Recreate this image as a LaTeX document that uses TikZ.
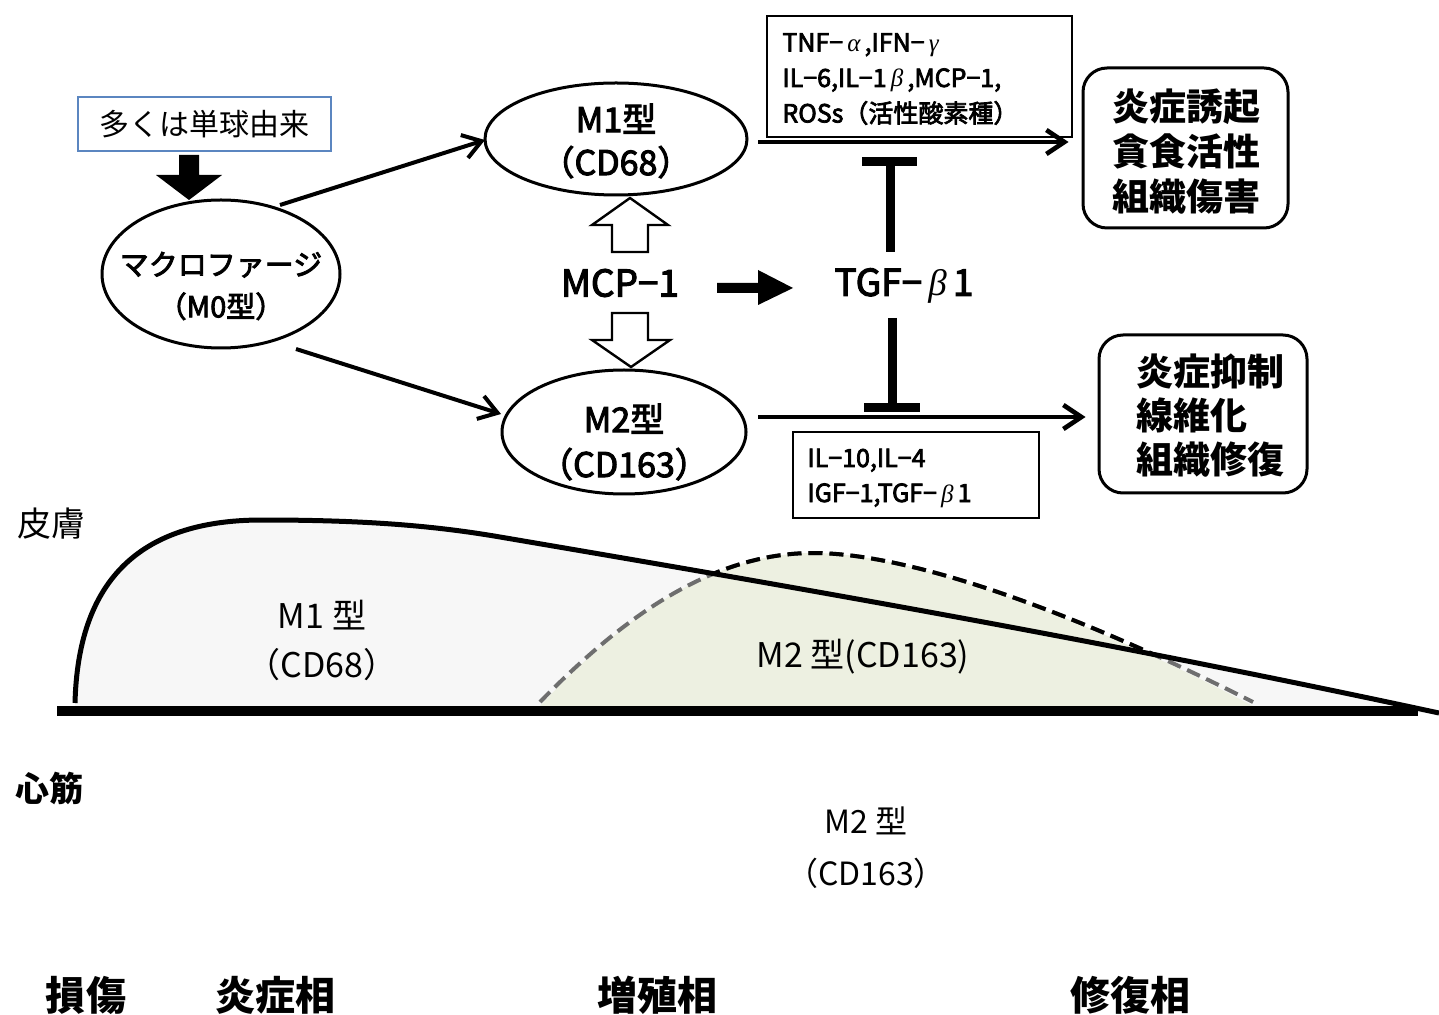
\documentclass[tikz,border=0pt]{standalone}
\usepackage{fontspec}
\setmainfont{Noto Sans CJK JP}
\newfontfamily\semib{Noto Sans CJK JP}[FakeBold=3]
\newfontfamily\grk{Liberation Serif}
\usetikzlibrary{shapes.geometric,arrows.meta}
\definecolor{monefill}{HTML}{F7F7F7}
\definecolor{mtwofill}{HTML}{EDF0E1}
\definecolor{dashgray}{HTML}{6E6E6E}
\definecolor{boxblue}{HTML}{5B86C0}
\newcommand{\gk}[1]{{\grk\itshape\,#1\,}}
\begin{document}
\begin{tikzpicture}[x=0.5pt,y=-0.5pt,
  ell/.style={draw, ellipse, line width=1.5pt, inner sep=0pt},
  arr/.style={line width=2pt, -{Straight Barb[length=9pt,width=12pt]}},
  harr/.style={line width=2.3pt, -{Straight Barb[length=9pt,width=12pt]}},
  thinbox/.style={draw, line width=1pt, inner sep=0pt},
  rbox/.style={draw, line width=1.5pt, rounded corners=12pt, inner sep=0pt},
  hollow/.style={draw, line width=1.2pt, fill=white},
  tbar/.style={line width=4.5pt},
  txt/.style={inner sep=0pt, align=center},
  txtl/.style={inner sep=0pt, align=left, anchor=west},
  mtwodash/.style={line width=2pt, dash pattern=on 7pt off 3.5pt}
]
\useasboundingbox (0,0) rectangle (1439,1015);

% ---------- top diagram ----------
\node[draw=boxblue, line width=1pt, minimum width=126.5pt, minimum height=27pt, inner sep=0pt,
      font=\fontsize{15}{18}\selectfont] (src) at (204.5,124) {多くは単球由来};
\fill (179,155) -- (199,155) -- (199,175) -- (222,175) -- (189,200) -- (156,175) -- (179,175) -- cycle;

\node[ell, minimum width=119pt, minimum height=74pt] (m0) at (221,274) {};
\node[txt, font=\semib\fontsize{14.5}{21}\selectfont] (m0t) at (221,286) {マクロファージ\\（M0型）};

\node[ell, minimum width=131pt, minimum height=56pt] (m1) at (616,139) {};
\node[txt, font=\semib\fontsize{17}{21.5}\selectfont] (m1t) at (616,141) {M1型\\（CD68）};

\node[ell, minimum width=122pt, minimum height=62pt] (m2) at (624,432) {};
\node[txt, font=\semib\fontsize{17}{22.5}\selectfont] (m2t) at (624,442) {M2型\\（CD163）};

\coordinate (a1s) at (280,205);
\coordinate (a1e) at (485,140);
\coordinate (a2s) at (296,349);
\coordinate (a2e) at (501,414);
\draw[arr] (a1s) -- (a1e);
\draw[arr] (a2s) -- (a2e);

\node[txt, font=\semib\fontsize{18.5}{22}\selectfont] (mcp) at (620,283) {MCP−1};
\node[txt, font=\semib\fontsize{18.5}{22}\selectfont] (tgf) at (904,286) {TGF−\gk{β}1};

% hollow arrows
\draw[hollow] (612,252) -- (612,225) -- (592,225) -- (630,198) -- (668,225) -- (648,225) -- (648,252) -- cycle;
\draw[hollow] (612,313) -- (648,313) -- (648,340) -- (670,340) -- (631,367) -- (592,340) -- (612,340) -- cycle;
% black arrow
\fill (717,283) -- (758,283) -- (758,270) -- (793,288) -- (758,305) -- (758,293) -- (717,293) -- cycle;

% inhibition bars
\draw[tbar] (890,252) -- (890,162);
\draw[tbar] (862,162) -- (917,162);
\draw[tbar] (892,318) -- (892,408);
\draw[tbar] (864,408) -- (920,408);

% cytokine boxes
\node[thinbox, minimum width=152.5pt, minimum height=60.5pt] (cyt1) at (919.5,76.5) {};
\node[txtl, font=\semib\fontsize{12.5}{17.75}\selectfont] (cyt1t) at (782,79) {TNF−\gk{α},IFN−\gk{γ}\\IL−6,IL−1\gk{β},MCP−1,\\ROSs（活性酸素種）};
\node[thinbox, minimum width=123pt, minimum height=43pt] (cyt2) at (916,475) {};
\node[txtl, font=\semib\fontsize{12.5}{17.5}\selectfont] (cyt2t) at (807,478) {IL−10,IL−4\\IGF−1,TGF−\gk{β}1};

% outcome boxes
\node[rbox, minimum width=102.5pt, minimum height=80pt] (r1) at (1185.5,148) {};
\node[txtl, font=\bfseries\fontsize{18.5}{22.5}\selectfont] (r1t) at (1112,152) {炎症誘起\\貪食活性\\組織傷害};
\node[rbox, minimum width=104pt, minimum height=79pt] (r2) at (1203,414) {};
\node[txtl, font=\bfseries\fontsize{18.5}{22}\selectfont] (r2t) at (1136,416) {炎症抑制\\線維化\\組織修復};

\coordinate (h1s) at (758,142);
\coordinate (h2s) at (758,417);
\draw[harr, shorten >=6.5pt] (h1s) -- (r1.west |- h1s);
\draw[harr, shorten >=6pt] (h2s) -- (r2.west |- h2s);

% ---------- time course graph ----------
\node[txt, font=\fontsize{17}{20}\selectfont] (skin) at (52,524) {皮膚};

\fill[monefill] (75,703) .. controls (78,585) and (135,520) .. (262,520)
  .. controls (360,520) and (430,525) .. (500,537)
  .. controls (800,588) and (1100,640) .. (1439,713) -- (75,713) -- cycle;
\fill[mtwofill] (540,706) .. controls (620,620) and (710,553) .. (813,553)
  .. controls (900,553) and (1050,600) .. (1253,706) -- cycle;
\draw[mtwodash, dashgray] (540,702) .. controls (620,620) and (710,553) .. (813,553)
  .. controls (900,553) and (1050,600) .. (1253,702);
\draw[line width=2.5pt] (75,703) .. controls (78,585) and (135,520) .. (262,520)
  .. controls (360,520) and (430,525) .. (500,537)
  .. controls (800,588) and (1100,640) .. (1439,713);
\begin{scope}
  \clip (75,703) .. controls (78,585) and (135,520) .. (262,520)
    .. controls (360,520) and (430,525) .. (500,537)
    .. controls (800,588) and (1100,640) .. (1439,713) -- (1439,0) -- (75,0) -- cycle;
  \draw[mtwodash, black] (540,702) .. controls (620,620) and (710,553) .. (813,553)
    .. controls (900,553) and (1050,600) .. (1253,702);
\end{scope}
\draw[line width=5pt] (57,711) -- (1418,711);

\node[txt, font=\fontsize{17}{24.5}\selectfont] (m1g) at (322,640) {M1 型\\（CD68）};
\node[txt, font=\fontsize{17}{18}\selectfont] (m2g) at (863,657) {M2 型(CD163)};

\node[txt, font=\bfseries\fontsize{17}{20}\selectfont] (heart) at (50,788) {心筋};
\node[txt, font=\fontsize{16}{26}\selectfont] (m2h) at (866,848) {M2 型\\（CD163）};

\node[txt, font=\bfseries\fontsize{20}{24}\selectfont] (p0) at (86,995) {損傷};
\node[txt, font=\bfseries\fontsize{20}{24}\selectfont] (p1) at (275,995) {炎症相};
\node[txt, font=\bfseries\fontsize{20}{24}\selectfont] (p2) at (657,995) {増殖相};
\node[txt, font=\bfseries\fontsize{20}{24}\selectfont] (p3) at (1130,995) {修復相};
\end{tikzpicture}
\end{document}
